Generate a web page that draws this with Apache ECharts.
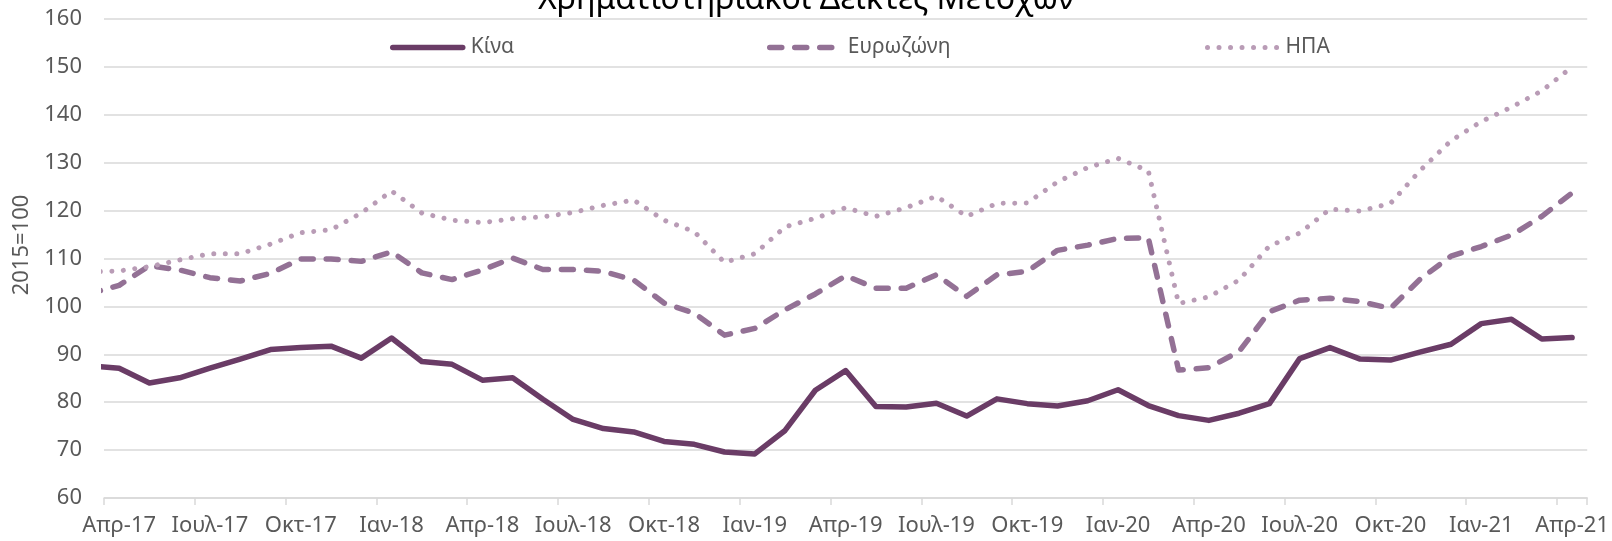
<!DOCTYPE html>
<html>
<head>
<meta charset="utf-8">
<script src="https://cdn.jsdelivr.net/npm/echarts@6/dist/echarts.min.js"></script>
<style>
html,body{margin:0;padding:0;background:#fff;}
#chart{width:1612px;height:541px;}
</style>
</head>
<body>
<div id="chart"></div>
<script>
// Month categories shown on the axis (Apr-17 .. Apr-21)
const months = [
  'Απρ-17','Μαϊ-17','Ιουν-17','Ιουλ-17','Αυγ-17','Σεπ-17','Οκτ-17','Νοε-17','Δεκ-17',
  'Ιαν-18','Φεβ-18','Μαρ-18','Απρ-18','Μαϊ-18','Ιουν-18','Ιουλ-18','Αυγ-18','Σεπ-18','Οκτ-18','Νοε-18','Δεκ-18',
  'Ιαν-19','Φεβ-19','Μαρ-19','Απρ-19','Μαϊ-19','Ιουν-19','Ιουλ-19','Αυγ-19','Σεπ-19','Οκτ-19','Νοε-19','Δεκ-19',
  'Ιαν-20','Φεβ-20','Μαρ-20','Απρ-20','Μαϊ-20','Ιουν-20','Ιουλ-20','Αυγ-20','Σεπ-20','Οκτ-20','Νοε-20','Δεκ-20',
  'Ιαν-21','Φεβ-21','Μαρ-21','Απρ-21'
];
// Series values: first value is Mar-17 (clipped at the left edge of the axis), then Apr-17 .. Apr-21
const china = [87.6,
  87.1,84.0,85.1,87.1,89.0,91.0,91.4,91.7,89.2,
  93.4,88.5,87.9,84.6,85.1,80.6,76.4,74.5,73.8,71.8,71.2,69.6,
  69.2,74.1,82.5,86.6,79.1,79.0,79.8,77.1,80.7,79.7,79.2,80.3,
  82.6,79.3,77.2,76.2,77.7,79.7,89.1,91.4,89.0,88.8,90.5,92.1,
  96.4,97.3,93.2,93.5];
const eurozone = [102.6,
  104.4,108.5,107.6,106.0,105.3,106.9,109.9,109.9,109.4,
  111.4,107.0,105.6,107.6,110.1,107.7,107.7,107.3,105.5,100.7,98.6,94.0,
  95.4,99.3,102.6,106.4,103.8,103.8,106.6,102.1,106.6,107.3,111.7,112.8,
  114.2,114.3,86.7,87.2,90.6,98.9,101.3,101.7,101.0,99.6,105.8,110.5,
  112.5,114.9,118.8,123.7];
const usa = [107.2,
  107.4,108.3,109.7,111.0,111.0,113.0,115.4,116.0,119.5,
  124.1,119.5,118.0,117.5,118.3,118.7,119.6,121.1,122.2,118.0,115.6,109.2,
  111.0,116.6,118.4,120.6,118.8,120.6,123.0,118.8,121.5,121.6,126.0,129.0,
  130.9,128.3,100.6,102.0,105.5,112.6,115.3,120.3,119.9,121.5,128.5,134.6,
  138.6,141.6,145.0,150.0];
const seriesNames = ['Κίνα','Ευρωζώνη','ΗΠΑ'];
const titleText = 'Χρηματιστηριακοί Δείκτες Μετοχών';
const yAxisTitle = '2015=100';

const FONT = 'Noto Sans';
const toPts = arr => arr.map((v, i) => [i - 1, v]);

const colors = ['#6A3C66', '#937195', '#B99CB6'];
const lineStyles = [
  {color: colors[0], width: 5.5, type: 'solid', cap: 'round', join: 'round'},
  {color: colors[1], width: 5.5, type: [12, 13], cap: 'round', join: 'round'},
  {color: colors[2], width: 5, type: [0.01, 11.5], cap: 'round', join: 'round'}
];
const legendLeft = [385, 762, 1200];

const chart = echarts.init(document.getElementById('chart'), null, {renderer: 'canvas'});
chart.setOption({
  animation: false,
  backgroundColor: '#fff',
  title: {
    text: titleText, left: 'center', top: -21,
    textStyle: {fontFamily: FONT, fontSize: 32, fontWeight: 'normal', color: '#000'}
  },
  legend: seriesNames.map((n, k) => ({
    data: [n], left: legendLeft[k], top: 32, itemWidth: 70, itemHeight: 22, itemGap: 0,
    selectedMode: false,
    itemStyle: {opacity: 0},
    lineStyle: Object.assign({}, lineStyles[k]),
    textStyle: {fontFamily: FONT, fontSize: 21, color: '#595959', padding: [0, 0, 0, 3]}
  })),
  graphic: [{
    type: 'text', x: 22, y: 245, rotation: Math.PI / 2,
    style: {text: yAxisTitle, fontFamily: FONT, fontSize: 22, fill: '#595959', align: 'center', verticalAlign: 'middle'}
  }],
  grid: {left: 104, right: 22, top: 19, bottom: 43, containLabel: false},
  xAxis: [{
    type: 'category', data: months, boundaryGap: true, position: 'bottom',
    axisLine: {show: true, lineStyle: {color: '#D9D9D9', width: 1.5}},
    axisTick: {show: true, interval: 2, length: 7, lineStyle: {color: '#D9D9D9', width: 1.5}},
    axisLabel: {interval: 2, fontFamily: FONT, fontSize: 22, color: '#595959', margin: 17},
    splitLine: {show: false}
  }, {
    type: 'value', min: -0.5, max: 48.5, show: false
  }],
  yAxis: {
    type: 'value', min: 60, max: 160, interval: 10,
    axisLine: {show: false}, axisTick: {show: false},
    axisLabel: {fontFamily: FONT, fontSize: 22, color: '#595959', margin: 22},
    splitLine: {show: true, lineStyle: {color: '#D9D9D9', width: 1.5}}
  },
  series: seriesNames.map((n, k) => ({
    name: n, type: 'line', xAxisIndex: 1, data: toPts([china, eurozone, usa][k]),
    showSymbol: false, symbol: 'none', clip: true,
    lineStyle: lineStyles[k],
    itemStyle: {color: colors[k]}
  }))
});
</script>
</body>
</html>
